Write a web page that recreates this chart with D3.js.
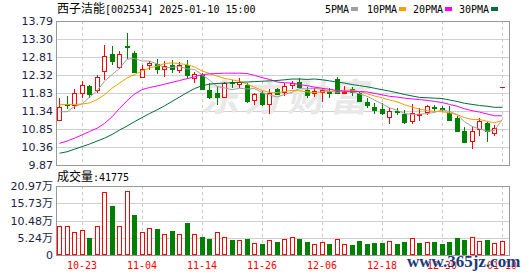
<!DOCTYPE html>
<html>
<head>
<meta charset="utf-8">
<script src="https://cdn.jsdelivr.net/npm/d3@7"></script>
<style>
  body { margin: 0; background: #fff; }
  svg { display: block; }
</style>
</head>
<body>
<div id="chart"></div>
<script>
// trading days shown (MM-DD)
const dates = ['10-18','10-21','10-22','10-23','10-24','10-25','10-28','10-29','10-30','10-31',
  '11-01','11-04','11-05','11-06','11-07','11-08','11-11','11-12','11-13','11-14',
  '11-15','11-18','11-19','11-20','11-21','11-22','11-25','11-26','11-27','11-28',
  '11-29','12-02','12-03','12-04','12-05','12-06','12-09','12-10','12-11','12-12',
  '12-13','12-16','12-17','12-18','12-19','12-20','12-23','12-24','12-25','12-26',
  '12-27','12-30','12-31','01-02','01-03','01-06','01-07','01-08','01-09','01-10'];

const open = [11.10,11.52,11.50,11.83,12.03,11.92,12.42,12.89,12.54,13.12,
  12.92,12.26,12.58,12.62,12.48,12.59,12.46,12.59,12.23,12.32,
  11.91,11.84,11.73,12.13,12.07,12.05,11.64,11.84,11.53,11.93,
  11.87,12.05,12.14,11.91,11.82,11.87,11.89,12.20,11.82,11.93,
  11.82,11.59,11.46,11.39,11.18,11.35,11.26,11.08,11.22,11.30,
  11.44,11.41,11.29,11.15,10.80,10.52,10.86,11.01,10.74,11.99];
const high = [11.70,11.75,11.94,12.17,12.05,12.33,13.13,13.10,12.98,13.46,
  12.98,12.58,12.71,12.76,12.71,12.73,12.67,12.73,12.41,12.38,
  12.09,12.00,12.14,12.18,12.23,12.11,11.82,11.89,11.93,11.96,
  12.09,12.16,12.23,11.99,11.96,11.96,11.96,12.26,12.02,11.99,
  11.87,11.69,11.57,11.57,11.41,11.41,11.38,11.53,11.42,11.50,
  11.51,11.47,11.47,11.20,10.90,10.92,11.15,11.06,10.97,11.99];
const low = [11.09,11.42,11.42,11.72,11.72,11.85,12.22,12.62,12.52,12.78,
  12.39,12.26,12.49,12.37,12.28,12.41,12.41,12.27,12.12,11.93,
  11.69,11.53,11.73,11.99,12.00,11.59,11.53,11.50,11.28,11.80,
  11.78,11.96,11.96,11.73,11.75,11.62,11.73,11.84,11.82,11.78,
  11.62,11.46,11.29,11.26,11.02,11.26,11.01,11.01,11.10,11.26,
  11.38,11.33,11.10,10.80,10.50,10.33,10.69,10.53,10.69,11.99];
const close = [11.44,11.49,11.83,12.04,11.81,12.26,12.83,12.69,12.89,13.07,
  12.39,12.48,12.65,12.49,12.57,12.47,12.59,12.33,12.35,11.93,
  11.71,11.73,12.11,12.10,12.14,11.62,11.79,11.53,11.82,11.81,
  12.02,12.09,12.00,11.78,11.89,11.90,11.84,11.84,11.87,11.86,
  11.62,11.50,11.37,11.29,11.35,11.31,11.03,11.29,11.26,11.47,
  11.43,11.40,11.10,10.80,10.50,10.79,11.06,10.80,10.88,11.99];

// volume in 万
const volume = [8.81,8.81,6.99,7.60,5.27,8.81,19.15,14.98,8.81,19.45,
  12.16,6.99,8.10,7.90,6.38,7.29,6.28,9.82,6.38,5.57,
  4.86,6.99,5.47,4.56,4.56,4.86,3.65,3.34,4.56,4.05,
  4.86,5.47,4.86,4.05,3.34,3.95,3.34,4.76,3.34,3.04,
  4.36,3.34,3.75,3.75,4.26,3.34,4.05,5.07,3.75,3.95,
  4.05,3.34,4.05,5.07,4.56,5.37,4.26,4.56,3.75,4.1775];

const ma5 = [11.32,11.32,11.46,11.53,11.72,11.89,12.15,12.33,12.50,12.75,
  12.77,12.70,12.70,12.62,12.52,12.53,12.55,12.49,12.47,12.33,
  12.18,12.01,11.97,11.92,11.96,11.94,11.95,11.84,11.78,11.72,
  11.79,11.85,11.95,11.94,11.96,11.93,11.88,11.85,11.87,11.86,
  11.81,11.74,11.64,11.53,11.43,11.36,11.27,11.25,11.25,11.27,
  11.30,11.37,11.33,11.24,11.05,10.92,10.85,10.79,10.81,11.10];
const ma10 = [11.51,11.52,11.52,11.53,11.56,11.65,11.78,11.96,12.10,12.24,
  12.33,12.43,12.51,12.56,12.63,12.65,12.63,12.60,12.54,12.43,
  12.36,12.29,12.23,12.19,12.15,12.07,11.99,11.90,11.85,11.84,
  11.87,11.90,11.89,11.86,11.84,11.86,11.87,11.90,11.90,11.91,
  11.87,11.81,11.75,11.70,11.64,11.59,11.51,11.45,11.39,11.35,
  11.33,11.32,11.29,11.24,11.16,11.11,11.11,11.06,11.02,11.08];
const ma20 = [10.46,10.52,10.60,10.69,10.78,10.87,11.00,11.18,11.41,11.62,
  11.80,11.92,11.98,12.02,12.07,12.12,12.17,12.22,12.27,12.33,
  12.35,12.36,12.37,12.37,12.37,12.36,12.31,12.25,12.20,12.13,
  12.11,12.10,12.06,12.03,11.99,11.96,11.93,11.90,11.88,11.87,
  11.87,11.86,11.82,11.78,11.74,11.72,11.69,11.67,11.65,11.63,
  11.60,11.57,11.52,11.47,11.40,11.35,11.31,11.26,11.21,11.21];
const ma30 = [10.19,10.23,10.30,10.37,10.44,10.52,10.60,10.70,10.82,10.93,
  11.05,11.16,11.27,11.37,11.48,11.60,11.72,11.84,11.95,12.03,
  12.07,12.09,12.10,12.11,12.12,12.13,12.14,12.15,12.16,12.17,
  12.19,12.21,12.21,12.20,12.21,12.19,12.16,12.13,12.10,12.06,
  12.03,12.00,11.96,11.92,11.88,11.84,11.79,11.75,11.71,11.70,
  11.69,11.68,11.64,11.60,11.55,11.52,11.49,11.47,11.44,11.44];

const priceTicks = [9.87, 10.36, 10.85, 11.34, 11.83, 12.32, 12.81, 13.30, 13.79];
const volTicks = [0, 5.24, 10.48, 15.73, 20.97];
const labelDates = ['10-23','11-04','11-14','11-26','12-06','12-18','12-30','01-10'];

const stockName = '西子洁能';
const stockInfo = '[002534] 2025-01-10 15:00';

const RED = '#ff0000', GREEN = '#008000';
const maSeries = [
  { name: '5PMA', values: ma5, color: '#a0a0a0', lx: 325 },
  { name: '10PMA', values: ma10, color: '#f4a000', lx: 367 },
  { name: '20PMA', values: ma20, color: '#ff00ff', lx: 413 },
  { name: '30PMA', values: ma30, color: '#006f38', lx: 459 }
];

const width = 530, height = 276;
const left = 56, right = 509;
const pTop = 21, pBottom = 165;
const vTop = 186, vBottom = 255;

const svg = d3.select('#chart').append('svg')
  .attr('width', width)
  .attr('height', height)
  .style('font-family', '"DejaVu Sans Mono", monospace');

const x = d3.scaleBand().domain(dates).range([55.75, 505.75]);
const y = d3.scaleLinear().domain([9.87, 13.79]).range([pBottom, pTop]);
const yv = d3.scaleLinear().domain([0, 20.97]).range([vBottom, vTop]);

const cx = d => Math.floor(x(d) + x.bandwidth() / 2);

const data = dates.map((d, i) => ({
  date: d, o: open[i], h: high[i], l: low[i], c: close[i], v: volume[i],
  volUp: i === 0 ? true : close[i] >= close[i - 1]
}));

// ---- grid ----
const grid = svg.append('g');
grid.selectAll('.hp').data(priceTicks.slice(1, -1)).enter().append('line')
  .attr('x1', left).attr('x2', right)
  .attr('y1', d => Math.round(y(d)) + 0.5).attr('y2', d => Math.round(y(d)) + 0.5)
  .attr('stroke', '#d0d0d0');
grid.selectAll('.hv').data(volTicks.slice(1, -1)).enter().append('line')
  .attr('x1', left).attr('x2', right)
  .attr('y1', d => Math.round(yv(d)) + 0.5).attr('y2', d => Math.round(yv(d)) + 0.5)
  .attr('stroke', '#d0d0d0');
[[pTop, pBottom], [vTop, vBottom]].forEach(r => {
  grid.selectAll(null).data(labelDates).enter().append('line')
    .attr('x1', d => cx(d) + 0.5).attr('x2', d => cx(d) + 0.5)
    .attr('y1', r[0]).attr('y2', r[1])
    .attr('stroke', '#c8c8c8')
    .attr('stroke-dasharray', '3,3');
});

// watermark
svg.append('text')
  .attr('transform', 'translate(287,111) skewX(-12)')
  .attr('text-anchor', 'middle')
  .attr('font-family', '"Noto Sans CJK SC"')
  .attr('font-size', 38)
  .attr('font-weight', 'bold')
  .attr('letter-spacing', 5)
  .attr('fill', '#e8e8e8')
  .text('东方财富');

// ---- candles ----
const candles = svg.append('g');
data.forEach(d => {
  const xc = cx(d.date);
  const g = candles.append('g');
  const col = d.c > d.o ? RED : (d.c < d.o ? GREEN : RED);
  const yh = Math.round(y(d.h)), yl = Math.round(y(d.l));
  if (d.h > d.l) {
    g.append('rect').attr('x', xc).attr('y', yh).attr('width', 1)
      .attr('height', yl - yh + 1).attr('fill', col);
  }
  if (d.c > d.o) {
    const t = Math.round(y(d.c)), b = Math.round(y(d.o));
    g.append('rect').attr('x', xc - 2 + 0.5).attr('y', t + 0.5)
      .attr('width', 4).attr('height', Math.max(b - t, 1))
      .attr('fill', '#fff').attr('stroke', RED);
  } else if (d.c < d.o) {
    const t = Math.round(y(d.o)), b = Math.round(y(d.c));
    g.append('rect').attr('x', xc - 2).attr('y', t)
      .attr('width', 5).attr('height', Math.max(b - t, 1) + 1)
      .attr('fill', GREEN);
  } else {
    g.append('rect').attr('x', xc - 2).attr('y', Math.round(y(d.c)))
      .attr('width', 5).attr('height', 1).attr('fill', RED);
  }
});

// ---- moving averages ----
const line = d3.line()
  .x((v, i) => x(dates[i]) + x.bandwidth() / 2)
  .y(v => y(v));
maSeries.forEach(s => {
  svg.append('path')
    .datum(s.values)
    .attr('fill', 'none')
    .attr('stroke', s.color)
    .attr('stroke-width', 1)
    .attr('d', line);
});

// ---- volume ----
const vols = svg.append('g');
data.forEach(d => {
  const xc = cx(d.date);
  const t = Math.round(yv(d.v));
  if (d.volUp) {
    vols.append('rect').attr('x', xc - 2 + 0.5).attr('y', t + 0.5)
      .attr('width', 4).attr('height', vBottom - t - 1)
      .attr('fill', '#fff').attr('stroke', RED);
  } else {
    vols.append('rect').attr('x', xc - 2).attr('y', t)
      .attr('width', 5).attr('height', vBottom - t)
      .attr('fill', GREEN);
  }
});

// ---- frames ----
[[pTop, pBottom], [vTop, vBottom]].forEach(r => {
  svg.append('rect')
    .attr('x', left + 0.5).attr('y', r[0] + 0.5)
    .attr('width', right - left).attr('height', r[1] - r[0])
    .attr('fill', 'none').attr('stroke', '#999');
});

// ---- axes ----
const yAxis = svg.append('g')
  .attr('transform', 'translate(' + left + ',0)')
  .call(d3.axisLeft(y).tickValues(priceTicks).tickFormat(d3.format('.2f')).tickSize(0).tickPadding(3));
const vAxis = svg.append('g')
  .attr('transform', 'translate(' + left + ',0)')
  .call(d3.axisLeft(yv).tickValues(volTicks)
    .tickFormat(d => d === 0 ? '0' : d3.format('.2f')(d) + '万').tickSize(0).tickPadding(3));
[yAxis, vAxis].forEach(a => {
  a.select('.domain').remove();
  a.selectAll('text')
    .attr('font-family', '"DejaVu Sans", "Noto Sans CJK SC", sans-serif')
    .attr('font-size', 11)
    .attr('fill', '#1e1e46');
});

const xAxis = svg.append('g')
  .attr('transform', 'translate(0,' + vBottom + ')')
  .call(d3.axisBottom(x).tickValues(labelDates).tickSize(0).tickPadding(7));
xAxis.select('.domain').remove();
xAxis.selectAll('text')
  .attr('font-family', '"DejaVu Sans Mono", monospace')
  .attr('font-size', 10)
  .attr('fill', RED);

// ---- title & legend ----
const title = svg.append('text').attr('x', 57).attr('y', 13).attr('fill', '#000');
title.append('tspan').attr('font-family', '"Noto Sans CJK SC"').attr('font-size', 12).text(stockName);
title.append('tspan').attr('font-size', 10).text(stockInfo);

maSeries.forEach(s => {
  svg.append('text')
    .attr('x', s.lx).attr('y', 13)
    .attr('font-size', 10)
    .attr('fill', '#000')
    .text(s.name);
  svg.append('rect')
    .attr('x', s.lx + s.name.length * 6 + 2).attr('y', 7)
    .attr('width', 7).attr('height', 4)
    .attr('fill', s.color);
});

const volLabel = svg.append('text').attr('x', 57).attr('y', 181).attr('fill', '#000');
volLabel.append('tspan').attr('font-family', '"Noto Sans CJK SC"').attr('font-size', 12).text('成交量');
volLabel.append('tspan').attr('font-size', 10).text(':' + Math.round(volume[volume.length - 1] * 10000));

// site watermark
svg.append('text')
  .attr('x', 407).attr('y', 267)
  .attr('font-family', '"Liberation Serif", serif')
  .attr('font-size', 17)
  .attr('font-weight', 'bold')
  .attr('fill', '#1c3a7a')
  .attr('stroke', '#fff')
  .attr('stroke-width', 0.6)
  .attr('paint-order', 'stroke')
  .text('www.365jz.com');
</script>
</body>
</html>
